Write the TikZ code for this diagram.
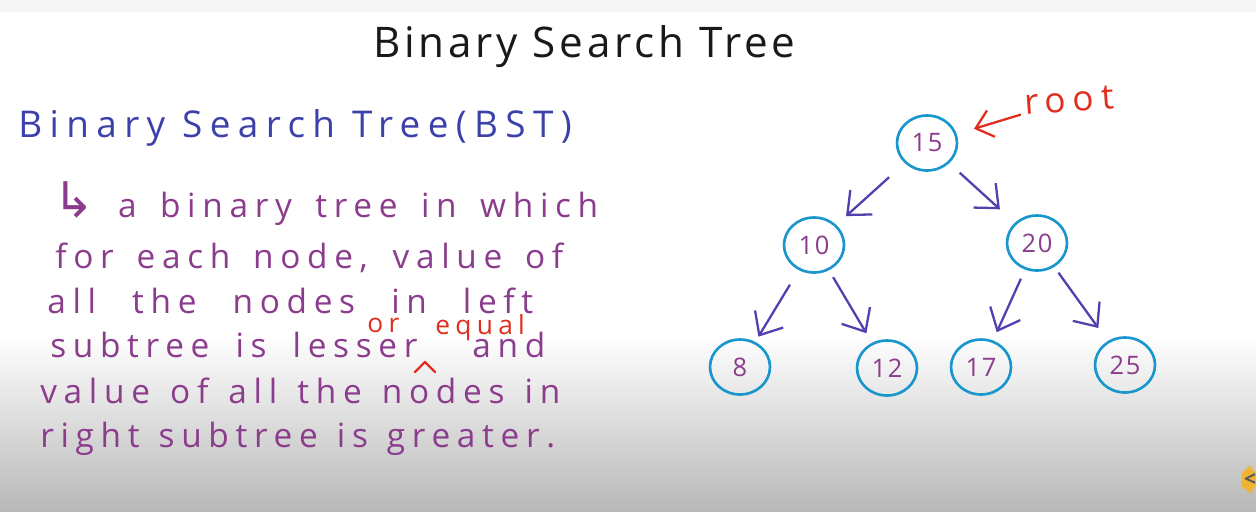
\documentclass[tikz,border=0pt]{standalone}
\usepackage{fontspec}
\setmainfont{Open Sans}
\newfontfamily\titlefont[LetterSpace=9]{Open Sans}
\newfontfamily\handfont[LetterSpace=20]{Open Sans}
\newfontfamily\notefont[LetterSpace=20]{Open Sans}
\newfontfamily\digitfont[LetterSpace=6]{Open Sans}
\newfontfamily\symfont{DejaVu Sans}
\usetikzlibrary{shapes.geometric, arrows.meta, positioning}
\definecolor{inkBlack}{RGB}{25,25,25}
\definecolor{inkBlue}{RGB}{60,65,170}
\definecolor{inkPurple}{RGB}{140,60,140}
\definecolor{inkRed}{RGB}{225,45,30}
\definecolor{ringBlue}{RGB}{25,150,205}
\definecolor{edgeBlue}{RGB}{80,65,175}
\definecolor{barGray}{RGB}{246,246,246}
\definecolor{fadeGray}{RGB}{184,184,184}
\definecolor{tabYellow}{RGB}{238,180,50}
\definecolor{tabGray}{RGB}{90,90,90}
% one handwritten line, stretched to the width it has in the picture
\newcommand{\handline}[2]{\makebox[#1][s]{#2}}

\begin{document}
\begin{tikzpicture}[
    x=0.02cm, y=-0.02cm,
    bstnode/.style={ellipse, draw=ringBlue, line width=1.5pt, minimum width=1.2cm, minimum height=1.1cm, inner sep=0pt, text=inkPurple, font=\digitfont\fontsize{14.5}{16}\selectfont},
    edge/.style={draw=edgeBlue, line width=1.3pt, -{Straight Barb[length=0.38cm, width=0.66cm]}},
    textline/.style={anchor=base west, inner sep=0pt, text=inkPurple, font=\handfont\fontsize{19}{22}\selectfont},
    note/.style={inner sep=0pt, text=inkRed, font=\notefont\fontsize{15}{17}\selectfont},
    >=Latex
]
\useasboundingbox (0,0) rectangle (1256,511);
% background
\fill[white] (0,0) rectangle (1256,511);
\fill[barGray] (0,0) rectangle (1256,12);
\shade[top color=white, bottom color=fadeGray] (0,335) rectangle (1256,511);

% headings
\node[anchor=base west, inner sep=0pt, text=inkBlack, font=\titlefont\fontsize{24}{28}\selectfont] (title) at (373,57) {Binary Search Tree};
\node[anchor=base west, inner sep=0pt, text=inkBlue, font=\handfont\fontsize{21}{24}\selectfont] (bst) at (18,137) {Binary Search Tree(BST)};

% definition
\node[textline] (l1) at (53,217) {\handline{10.9cm}{{\symfont\fontsize{28}{28}\selectfont ↳} a binary tree in which}};
\node[textline] (l2) at (55,268) {\handline{10.16cm}{for each node, value of}};
\node[textline] (l3) at (47,313) {\handline{9.72cm}{all the nodes in left}};
\node[textline] (l4) at (50,357) {\handline{9.9cm}{subtree is lesser\hspace{1.1cm}and}};
\node[textline] (l5) at (40,403) {\handline{10.4cm}{value of all the nodes in}};
\node[textline] (l6) at (40,447) {\handline{10.3cm}{right subtree is greater.}};

% correction
\node[note, anchor=base west] (or) at (367,332) {or};
\node[note, anchor=base west] (equal) at (435,334) {equal};
\draw[inkRed, line width=1.3pt, line cap=round, line join=round] (415,372) -- (425,362) -- (435,372);

% tree
\node[bstnode] (n15) at (927,143) {15};
\node[bstnode] (n10) at (814,245) {10};
\node[bstnode] (n20) at (1037,243) {20};
\node[bstnode] (n8) at (740,367) {8};
\node[bstnode] (n12) at (887,368) {12};
\node[bstnode] (n17) at (981,367) {17};
\node[bstnode] (n25) at (1125,365) {25};

\draw[edge, shorten <=0.42cm, shorten >=0.26cm] (n15) -- (n10);
\draw[edge, shorten <=0.28cm, shorten >=0.4cm] (n15) -- (n20);
\draw[edge, shorten <=0.34cm, shorten >=0.12cm] (n10) -- (n8);
\draw[edge, shorten <=0.16cm, shorten >=0.22cm] (n10) -- (n12);
\draw[edge, shorten <=0.2cm, shorten >=0.18cm] (n20) -- (n17);
\draw[edge, shorten <=0.14cm, shorten >=0.32cm] (n20) -- (n25);

% root label
\node[note, rotate=4, font=\notefont\fontsize{20}{22}\selectfont] (root) at (1069,100) {root};
\draw[inkRed, line width=1.3pt, -{Straight Barb[length=0.32cm, width=0.55cm]}, shorten <=0.08cm, shorten >=0.36cm] (root) -- (n15);

% player tab
\fill[tabYellow, rounded corners=6pt] (1256,466) -- (1244,466) -- (1240,480) -- (1244,493) -- (1256,493) -- cycle;
\node[text=tabGray, font=\bfseries\fontsize{12}{12}\selectfont, inner sep=0pt] (tab) at (1250,480) {<};
\end{tikzpicture}
\end{document}
